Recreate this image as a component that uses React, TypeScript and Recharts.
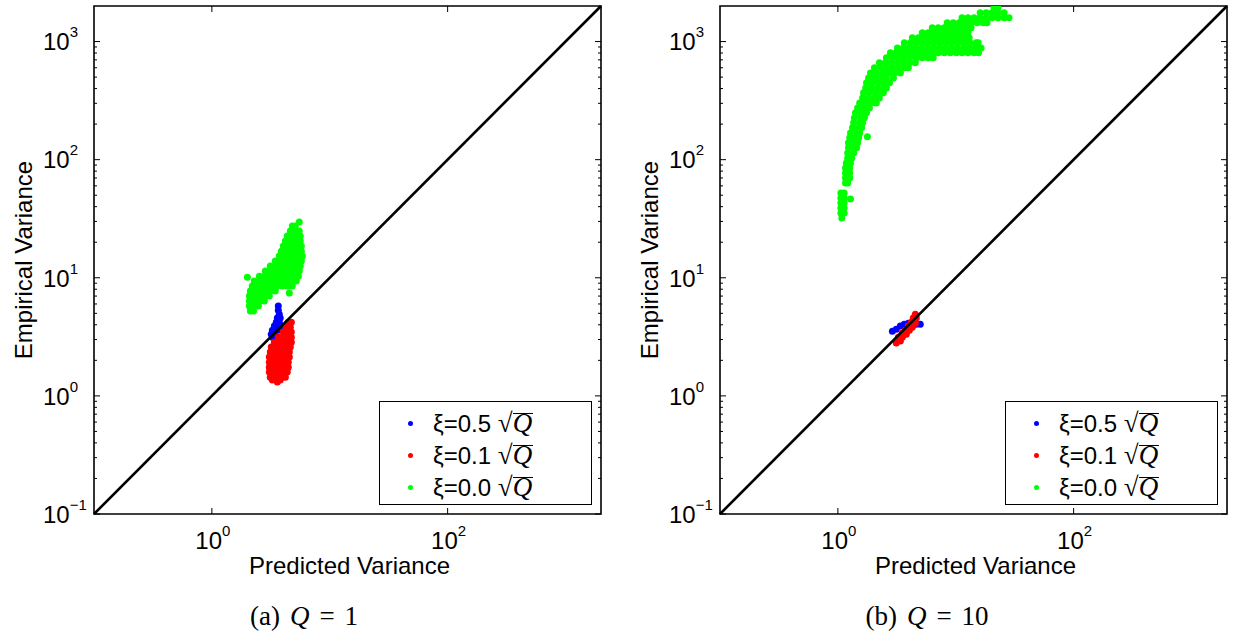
import React from 'react';
import {
  ScatterChart,
  Scatter,
  XAxis,
  YAxis,
  ReferenceLine,
  ReferenceArea,
  Legend,
} from 'recharts';

type Pt = [number, number];
// a row of the cloud: [empirical variance, predicted variances]
type Row = [number, number[]];

// ---------- panel (a): Q = 1 ----------
const blueQ1: Pt[] = [
  [3.66, 5.76], [3.66, 5.32], [3.73, 4.92], [3.59, 4.56], [3.8, 4.56],
  [3.52, 4.21], [3.73, 4.21], [3.39, 3.9], [3.59, 3.9], [3.88, 3.9],
  [3.26, 3.6], [3.45, 3.6], [3.66, 3.6], [3.19, 3.33], [3.39, 3.33], [3.26, 3.14],
];

const redQ1Rows: Row[] = [
  [4.21, [4.45, 4.72]],
  [3.82, [4.28, 4.63]],
  [3.47, [4.04, 4.36, 4.72]],
  [3.14, [3.66, 3.96, 4.28, 4.72]],
  [2.85, [3.39, 3.66, 3.96, 4.28, 4.72]],
  [2.59, [3.19, 3.45, 3.73, 4.04, 4.36, 4.63]],
  [2.35, [3.13, 3.39, 3.66, 3.96, 4.28, 4.54]],
  [2.13, [3.07, 3.32, 3.59, 3.88, 4.2, 4.54]],
  [1.93, [3.07, 3.32, 3.59, 3.88, 4.2, 4.45]],
  [1.75, [3.07, 3.32, 3.59, 3.88, 4.2, 4.45]],
  [1.59, [3.07, 3.32, 3.59, 3.88, 4.12, 4.36]],
  [1.44, [3.13, 3.39, 3.66, 3.96, 4.2]],
  [1.36, [3.26, 3.52, 3.8]],
];
const redQ1Extra: Pt[] = [[3.59, 1.31]];

const greenQ1Rows: Row[] = [
  [27.4, [4.81, 5.1]],
  [24.9, [4.63, 5.1, 5.51]],
  [22.6, [4.36, 4.81, 5.3, 5.62]],
  [20.5, [4.2, 4.63, 5.1, 5.62]],
  [18.6, [4.04, 4.45, 4.91, 5.41, 5.74]],
  [16.8, [3.88, 4.28, 4.72, 5.2, 5.74]],
  [15.3, [3.73, 4.12, 4.54, 5.0, 5.51, 5.85]],
  [13.9, [3.45, 3.8, 4.2, 4.63, 5.1, 5.74]],
  [12.6, [3.13, 3.45, 3.8, 4.2, 4.63, 5.1, 5.62]],
  [11.4, [2.84, 3.13, 3.45, 3.8, 4.2, 4.63, 5.1, 5.51]],
  [10.3, [2.53, 2.79, 3.07, 3.39, 3.73, 4.12, 4.54, 5.0, 5.41]],
  [9.38, [2.29, 2.53, 2.79, 3.07, 3.39, 3.73, 4.12, 4.54, 4.91, 5.2]],
  [8.51, [2.2, 2.43, 2.68, 2.95, 3.26, 3.59, 3.96, 4.36, 4.81]],
  [7.72, [2.12, 2.34, 2.58, 2.84, 3.13, 3.45]],
  [7.0, [2.08, 2.29, 2.53, 2.79, 3.07]],
  [6.35, [2.08, 2.29, 2.53, 2.79]],
  [5.76, [2.08, 2.29, 2.48]],
  [5.22, [2.12, 2.25]],
];
const greenQ1Extra: Pt[] = [[5.51, 29.6], [2.0, 10.1], [4.54, 7.42]];

// ---------- panel (b): Q = 10 ----------
const blueQ10: Pt[] = [
  [2.9, 3.53], [3.13, 3.67], [3.39, 3.9], [3.66, 4.05],
  [3.96, 4.13], [4.28, 4.13], [4.63, 4.05], [5.0, 4.05],
];

const redQ10: Pt[] = [
  [3.13, 2.8], [3.39, 2.91], [3.26, 3.14], [3.52, 3.14], [3.52, 3.4],
  [3.81, 3.33], [3.74, 3.6], [4.04, 3.6], [3.96, 3.9], [4.28, 3.82],
  [4.2, 4.21], [4.54, 4.13], [4.36, 4.56], [4.63, 4.56], [4.54, 4.92],
];

const greenQ10Rows: Row[] = [
  [1930, [21.1, 22.8]],
  [1751, [16.1, 18.1, 20.3, 22.8, 25.7]],
  [1588, [11.3, 12.7, 14.3, 16.1, 18.1, 20.3, 22.8, 25.7, 28.3]],
  [1441, [8.46, 9.51, 10.7, 12.0, 13.5, 15.2, 17.1, 18.4]],
  [1307, [6.32, 7.1, 7.98, 8.97, 10.1, 11.3, 12.7, 13.5]],
  [1185, [5.2, 5.84, 6.57, 7.38, 8.29, 9.32, 10.5, 11.8, 12.7]],
  [1075, [4.28, 4.81, 5.41, 6.07, 6.83, 7.67, 8.63, 9.69, 10.9, 12.2, 13.0]],
  [975, [3.66, 4.12, 4.63, 5.2, 5.84, 6.57, 7.38, 8.29, 9.32, 10.5, 11.8, 13.2, 14.9, 15.5]],
  [884, [3.2, 3.59, 4.04, 4.54, 5.1, 5.73, 6.44, 7.24, 8.14, 9.15, 10.3, 11.6, 13.0, 14.6, 16.4]],
  [802, [2.79, 3.13, 3.52, 3.96, 4.45, 5.0, 5.62, 6.32, 7.1, 7.98, 8.97, 10.1, 11.3, 12.7, 14.3, 15.6]],
  [728, [2.58, 2.9, 3.26, 3.66, 4.12, 4.63, 5.2, 5.84, 6.44]],
  [660, [2.25, 2.53, 2.84, 3.2, 3.59, 4.04, 4.54]],
  [599, [2.04, 2.3, 2.58, 2.9, 3.26, 3.66, 3.96]],
  [543, [1.89, 2.12, 2.39, 2.68, 3.01, 3.39]],
  [492, [1.82, 2.04, 2.3, 2.58, 2.96]],
  [447, [1.75, 1.96, 2.21, 2.48, 2.74]],
  [405, [1.72, 1.93, 2.17, 2.43, 2.58]],
  [368, [1.65, 1.85, 2.08, 2.34, 2.43]],
  [333, [1.62, 1.82, 2.04, 2.25]],
  [302, [1.53, 1.72, 1.93, 2.12]],
  [274, [1.47, 1.65, 1.85]],
  [249, [1.41, 1.59, 1.75]],
  [226, [1.38, 1.56, 1.68]],
  [205, [1.36, 1.53, 1.62]],
  [186, [1.33, 1.5, 1.59]],
  [168, [1.28, 1.44, 1.53]],
  [153, [1.26, 1.41, 1.5]],
  [139, [1.23, 1.38, 1.47]],
  [126, [1.23, 1.38, 1.44]],
  [114, [1.21, 1.36]],
  [103, [1.21, 1.31]],
  [93.8, [1.18, 1.28]],
  [85.1, [1.16, 1.26]],
  [77.2, [1.16, 1.26]],
  [70.0, [1.16, 1.26]],
  [63.5, [1.16, 1.21]],
  [52.2, [1.06, 1.13]],
  [47.4, [1.06, 1.13]],
  [43.0, [1.06, 1.13]],
  [39.0, [1.06, 1.13]],
  [35.3, [1.06, 1.13]],
  [32.1, [1.08]],
];
const greenQ10Extra: Pt[] = [[1.78, 156], [1.28, 46.4]];

// ---------- axes / labels ----------
const axisDomain = [0.1, 2000];
const xTicks = [1, 100];
const yTicks = [
  0.1, 0.2, 0.3, 0.4, 0.5, 0.6, 0.7, 0.8, 0.9,
  1, 2, 3, 4, 5, 6, 7, 8, 9,
  10, 20, 30, 40, 50, 60, 70, 80, 90,
  100, 200, 300, 400, 500, 600, 700, 800, 900,
  1000,
];
const seriesNames = ['ξ=0.5', 'ξ=0.1', 'ξ=0.0'];
const seriesColors = ['#0000ff', '#ff0000', '#00ff00'];

const SANS = '"Liberation Sans", Arial, Helvetica, sans-serif';
const SERIF = '"Liberation Serif", "Times New Roman", Times, serif';

// plot box inside each chart (chart-local px)
const PL = 94;
const PR = 601;
const PT = 6;
const PB = 514;
const CW = 612;
const CH = 590;
const DOT_R = 3.5;

const toPoints = (rows: Row[], extra: Pt[] = []) => [
  ...rows.flatMap(([y, xs]) => xs.map((x) => ({ x, y }))),
  ...extra.map(([x, y]) => ({ x, y })),
];
const fromPairs = (pts: Pt[]) => pts.map(([x, y]) => ({ x, y }));

const expLabel = (v: number) => {
  const e = Math.round(Math.log10(v));
  return e < 0 ? `\u2212${-e}` : `${e}`;
};

function XTick(props: any) {
  const { x, payload } = props;
  return (
    <g>
      <line x1={x} x2={x} y1={PB} y2={PB - 6} stroke="#000" strokeWidth={1} />
      <line x1={x} x2={x} y1={PT} y2={PT + 6} stroke="#000" strokeWidth={1} />
      <text x={x + 1} y={549} textAnchor="middle" fontSize={24} fontFamily={SANS} fill="#000">
        10
        <tspan dy={-13} fontSize={15}>{expLabel(payload.value)}</tspan>
      </text>
    </g>
  );
}

function YTick(props: any) {
  const { y, payload } = props;
  const lg = Math.log10(payload.value);
  const major = Math.abs(lg - Math.round(lg)) < 1e-6;
  const len = major ? 6 : 3;
  return (
    <g>
      <line x1={PL} x2={PL + len} y1={y} y2={y} stroke="#000" strokeWidth={1} />
      <line x1={PR - len} x2={PR} y1={y} y2={y} stroke="#000" strokeWidth={1} />
      {major && (
        <text x={43} y={y + 8.8} fontSize={24} fontFamily={SANS} fill="#000">
          10
          <tspan dy={-13} fontSize={15}>{expLabel(payload.value)}</tspan>
        </text>
      )}
    </g>
  );
}

function XTitle() {
  return (
    <text x={(PL + PR) / 2 + 2} y={574} textAnchor="middle" fontSize={24} fontFamily={SANS} fill="#000">
      Predicted Variance
    </text>
  );
}

function YTitle() {
  const cx = 31.5;
  const cy = (PT + PB) / 2;
  return (
    <text
      x={cx}
      y={cy}
      textAnchor="middle"
      transform={`rotate(-90, ${cx}, ${cy})`}
      fontSize={24}
      fontFamily={SANS}
      fill="#000"
    >
      Empirical Variance
    </text>
  );
}

function SqrtQ() {
  return (
    <span style={{ fontFamily: SERIF, fontSize: 27 }}>
      √
      <span
        style={{
          fontStyle: 'italic',
          display: 'inline-block',
          borderTop: '1.4px solid #000',
          lineHeight: '19px',
          paddingRight: 1,
          verticalAlign: 'baseline',
        }}
      >
        Q
      </span>
    </span>
  );
}

function LegendBox() {
  return (
    <div
      style={{
        boxSizing: 'border-box',
        width: 213,
        height: 104,
        border: '1.5px solid #000',
        background: '#fff',
        position: 'relative',
        fontFamily: SANS,
      }}
    >
      {seriesNames.map((name, i) => (
        <div key={name} style={{ position: 'absolute', left: 0, top: 21 + i * 32 - 14, height: 28, width: '100%' }}>
          <span
            style={{
              position: 'absolute',
              left: 28,
              top: 11.5,
              width: 5,
              height: 5,
              borderRadius: '50%',
              background: seriesColors[i],
            }}
          />
          <span
            style={{
              position: 'absolute',
              left: 53,
              top: 0,
              fontSize: 24,
              lineHeight: '28px',
              whiteSpace: 'nowrap',
              color: '#000',
            }}
          >
            {name} <SqrtQ />
          </span>
        </div>
      ))}
    </div>
  );
}

function Panel({
  left,
  series,
  tag,
  qText,
  captionCenter,
}: {
  left: number;
  series: { x: number; y: number }[][];
  tag: string;
  qText: string;
  captionCenter: number;
}) {
  return (
    <>
      <div style={{ position: 'absolute', left, top: 0 }}>
        <ScatterChart width={CW} height={CH} margin={{ top: PT, right: CW - PR, bottom: CH - PB - 60, left: PL - 60 }}>
          <XAxis
            type="number"
            dataKey="x"
            scale="log"
            domain={axisDomain}
            allowDataOverflow
            ticks={xTicks}
            interval={0}
            tick={XTick}
            tickLine={false}
            axisLine={false}
            height={60}
            label={<XTitle />}
          />
          <YAxis
            type="number"
            dataKey="y"
            scale="log"
            domain={axisDomain}
            allowDataOverflow
            ticks={yTicks}
            interval={0}
            tick={YTick}
            tickLine={false}
            axisLine={false}
            width={60}
            label={<YTitle />}
          />
          <ReferenceArea
            x1={axisDomain[0]}
            x2={axisDomain[1]}
            y1={axisDomain[0]}
            y2={axisDomain[1]}
            fill="none"
            stroke="#000"
            strokeWidth={1.6}
            ifOverflow="visible"
          />
          {series.map((data, i) => (
            <Scatter
              key={seriesNames[i]}
              name={seriesNames[i]}
              data={data}
              fill={seriesColors[i]}
              isAnimationActive={false}
              shape={(p: any) => <circle cx={p.cx} cy={p.cy} r={DOT_R} fill={seriesColors[i]} />}
            />
          ))}
          <ReferenceLine
            segment={[
              { x: axisDomain[0], y: axisDomain[0] },
              { x: axisDomain[1], y: axisDomain[1] },
            ]}
            stroke="#000"
            strokeWidth={2.6}
            ifOverflow="visible"
            zIndex={700}
          />
          <Legend
            layout="vertical"
            align="center"
            verticalAlign="middle"
            wrapperStyle={{ left: 379, top: 401, width: 213, height: 104 }}
            content={() => <LegendBox />}
          />
        </ScatterChart>
      </div>
      <div
        style={{
          position: 'absolute',
          left: captionCenter - 150,
          width: 300,
          top: 601,
          textAlign: 'center',
          fontFamily: SERIF,
          fontSize: 27,
          lineHeight: '30px',
          color: '#000',
        }}
      >
        ({tag})<span style={{ marginLeft: 10 }} />
        <i>Q</i>
        <span style={{ margin: '0 10px' }}>=</span>
        {qText}
      </div>
    </>
  );
}

export default function App() {
  const seriesQ1 = [fromPairs(blueQ1), toPoints(redQ1Rows, redQ1Extra), toPoints(greenQ1Rows, greenQ1Extra)];
  const seriesQ10 = [fromPairs(blueQ10), fromPairs(redQ10), toPoints(greenQ10Rows, greenQ10Extra)];
  return (
    <div
      style={{
        position: 'absolute',
        left: 0,
        top: 0,
        width: 1233,
        height: 633,
        overflow: 'hidden',
        background: '#fff',
      }}
    >
      <Panel left={0} series={seriesQ1} tag="a" qText="1" captionCenter={304} />
      <Panel left={626} series={seriesQ10} tag="b" qText="10" captionCenter={927} />
    </div>
  );
}
